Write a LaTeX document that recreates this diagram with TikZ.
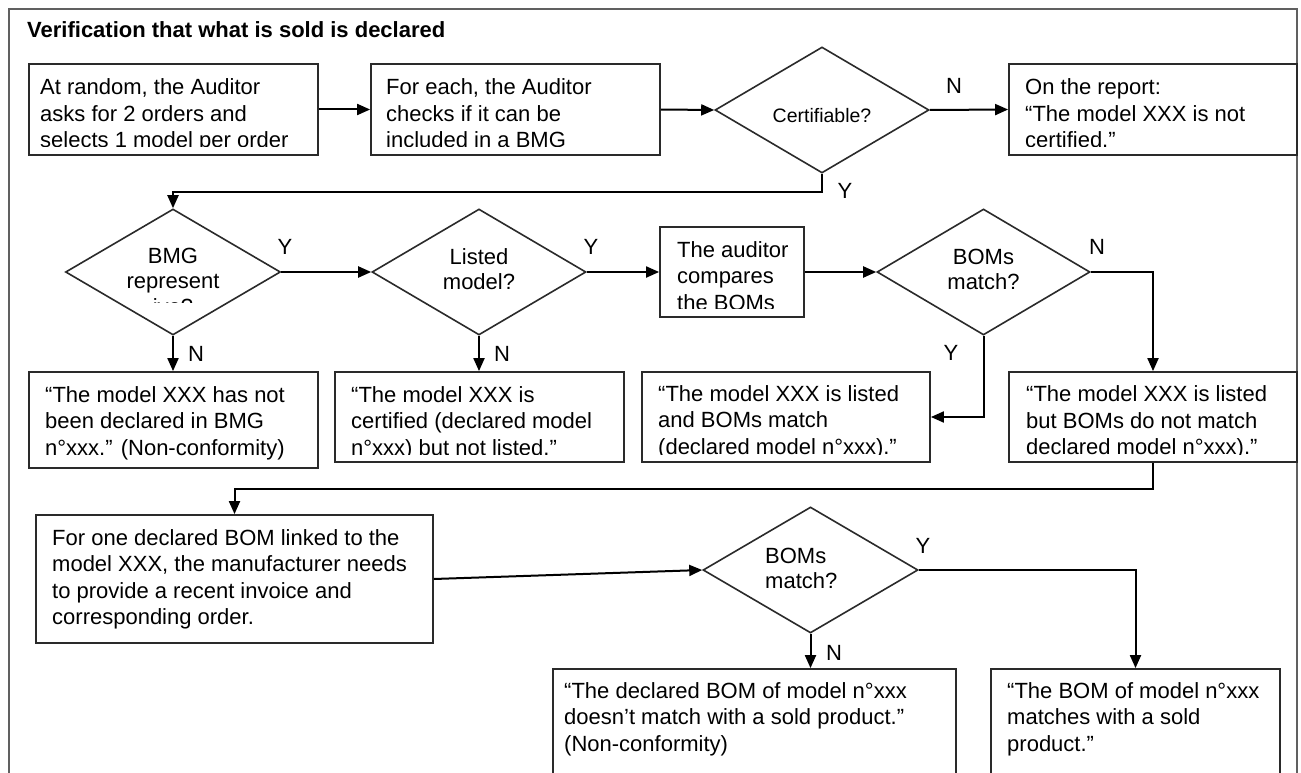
\documentclass[tikz,border=0pt]{standalone}
\usepackage{fontspec}
\setmainfont{Liberation Sans}
\usetikzlibrary{arrows.meta,shapes.geometric}
\newcommand\tl[1]{\parbox[t]{420pt}{\raggedright #1}}
\newcommand\tc[1]{\parbox[t]{200pt}{\centering #1}}
\definecolor{boxc}{HTML}{2A2A2A}
\definecolor{framec}{HTML}{606060}
\tikzset{
  box/.style={draw=boxc, line width=1.8pt, inner sep=0pt, rectangle},
  dia/.style={draw=boxc, line width=1.6pt, inner sep=0pt, diamond},
  txt/.style={anchor=base west, inner sep=0pt, font=\fontsize{22}{26.5}\selectfont},
  ctxt/.style={anchor=base, inner sep=0pt, font=\fontsize{22}{25.5}\selectfont},
  lab/.style={inner sep=0pt, font=\fontsize{22}{24}\selectfont},
  arr/.style={line width=2pt, -{Triangle[length=13pt,width=11pt]}},
  ln/.style={line width=2pt}
}
\begin{document}
\begin{tikzpicture}[x=1pt,y=-1pt]
\clip (0,0) rectangle (1301,773);
\fill[white] (0,0) rectangle (1301,773);
% frame
\draw[framec, line width=1.8pt] (9,9) rectangle (1297,820);
\node[anchor=base west, inner sep=0pt, font=\bfseries\fontsize{22}{24}\selectfont] (title) at (27,38) {Verification that what is sold is declared};

% row 1
\node[box, minimum width=289, minimum height=91] (b1) at (173.5,109.5) {};
\node[box, minimum width=289, minimum height=91] (b2) at (515.5,109.5) {};
\node[dia, minimum width=214, minimum height=126] (d1) at (822,110) {};
\node[box, minimum width=288, minimum height=91] (b3) at (1153,109.5) {};
\begin{scope}
\clip (29,64) rectangle (1297,146.5);
\node[txt] (t1) at (40,95) {\tl{At random, the Auditor\\asks for 2 orders and\\selects 1 model per order}};
\node[txt] (t2) at (386,95) {\tl{For each, the Auditor\\checks if it can be\\included in a BMG}};
\node[txt] (t3) at (1025,95) {\tl{On the report:\\“The model XXX is not\\certified.”}};
\end{scope}
\node[anchor=base, inner sep=0pt, font=\fontsize{19.5}{22}\selectfont] (td1) at (822,123) {Certifiable?};

% row 2
\node[dia, minimum width=215, minimum height=126] (d2) at (173,272) {};
\node[dia, minimum width=214, minimum height=126] (d3) at (479,272) {};
\node[box, minimum width=144, minimum height=90] (b4) at (732,272) {};
\node[dia, minimum width=213, minimum height=126] (d4) at (983.5,272) {};
\begin{scope}
\clip (60,240) rectangle (290,302);
\node[ctxt] (td2) at (173,263) {\tc{BMG\\represent\\ive?}};
\end{scope}
\node[ctxt] (td3) at (479,264) {\tc{Listed\\model?}};
\node[ctxt] (td4) at (983.5,264) {\tc{BOMs\\match?}};
\begin{scope}
\clip (660,227) rectangle (804,308.5);
\node[txt] (t4) at (677,257) {\tl{The auditor\\compares\\the BOMs}};
\end{scope}

% row 3
\node[box, minimum width=289, minimum height=96] (b5) at (173.5,420) {};
\node[box, minimum width=289, minimum height=90] (b6) at (479.5,417) {};
\node[box, minimum width=288, minimum height=90] (b7) at (786,417) {};
\node[box, minimum width=288, minimum height=90] (b8) at (1153,417) {};
\node[txt] (t5) at (45,402) {\tl{“The model XXX has not\\been declared in BMG\\n°xxx.” (Non-conformity)}};
\begin{scope}
\clip (335,372) rectangle (1297,454.5);
\node[txt] (t6) at (351,402) {\tl{“The model XXX is\\certified (declared model\\n°xxx) but not listed.”}};
\node[txt] (t7) at (658,401) {\tl{“The model XXX is listed\\and BOMs match\\(declared model n°xxx).”}};
\node[txt] (t8) at (1026,401.5) {\tl{“The model XXX is listed\\but BOMs do not match\\declared model n°xxx).”}};
\end{scope}

% row 4
\node[box, minimum width=397, minimum height=128] (b9) at (234.5,579) {};
\node[txt] (t9) at (52,545) {\tl{For one declared BOM linked to the\\model XXX, the manufacturer needs\\to provide a recent invoice and\\corresponding order.}};
\node[dia, minimum width=215, minimum height=126] (d5) at (810.5,570) {};
\node[txt, font=\fontsize{22}{25}\selectfont] (td5) at (765,563) {\tl{BOMs\\match?}};

% row 5
\node[box, minimum width=403, minimum height=131] (b10) at (754.5,734.5) {};
\node[box, minimum width=289, minimum height=131] (b11) at (1135.5,734.5) {};
\node[txt] (t10) at (564,698) {\tl{“The declared BOM of model n°xxx\\doesn’t match with a sold product.”\\(Non-conformity)}};
\node[txt] (t11) at (1007,698) {\tl{“The BOM of model n°xxx\\matches with a sold\\product.”}};

% connectors
\draw[arr] (b1.east) -- (b2.west);
\draw[arr] (b2.east) -- (d1.west);
\draw[arr] (d1.east) -- (b3.west);
\draw[arr] (d1.south) -- ++(0,18) -| (d2.north);
\draw[arr] (d2.east) -- (d3.west);
\draw[arr] (d3.east) -- (b4.west);
\draw[arr] (b4.east) -- (d4.west);
\draw[arr] (d4.east) -| (b8.north);
\draw[arr] (d4.south) |- (b7.east);
\draw[arr] (d2.south) -- (d2.south |- b5.north);
\draw[arr] (d3.south) -- (d3.south |- b6.north);
\draw[arr] (b8.south) -- ++(0,26) -| (b9.north);
\draw[arr] (b9.east) -- (d5.west);
\draw[arr] (d5.east) -| (b11.north);
\draw[arr] (d5.south) -- (d5.south |- b10.north);

% labels
\node[lab] (l1) at (954,86) {N};
\node[lab] (l2) at (845,191) {Y};
\node[lab] (l3) at (285,247) {Y};
\node[lab] (l4) at (591,247) {Y};
\node[lab] (l5) at (1097,247) {N};
\node[lab] (l6) at (196,354) {N};
\node[lab] (l7) at (502,354) {N};
\node[lab] (l8) at (951,353) {Y};
\node[lab] (l9) at (923,546) {Y};
\node[lab] (l10) at (834,653) {N};
\end{tikzpicture}
\end{document}
